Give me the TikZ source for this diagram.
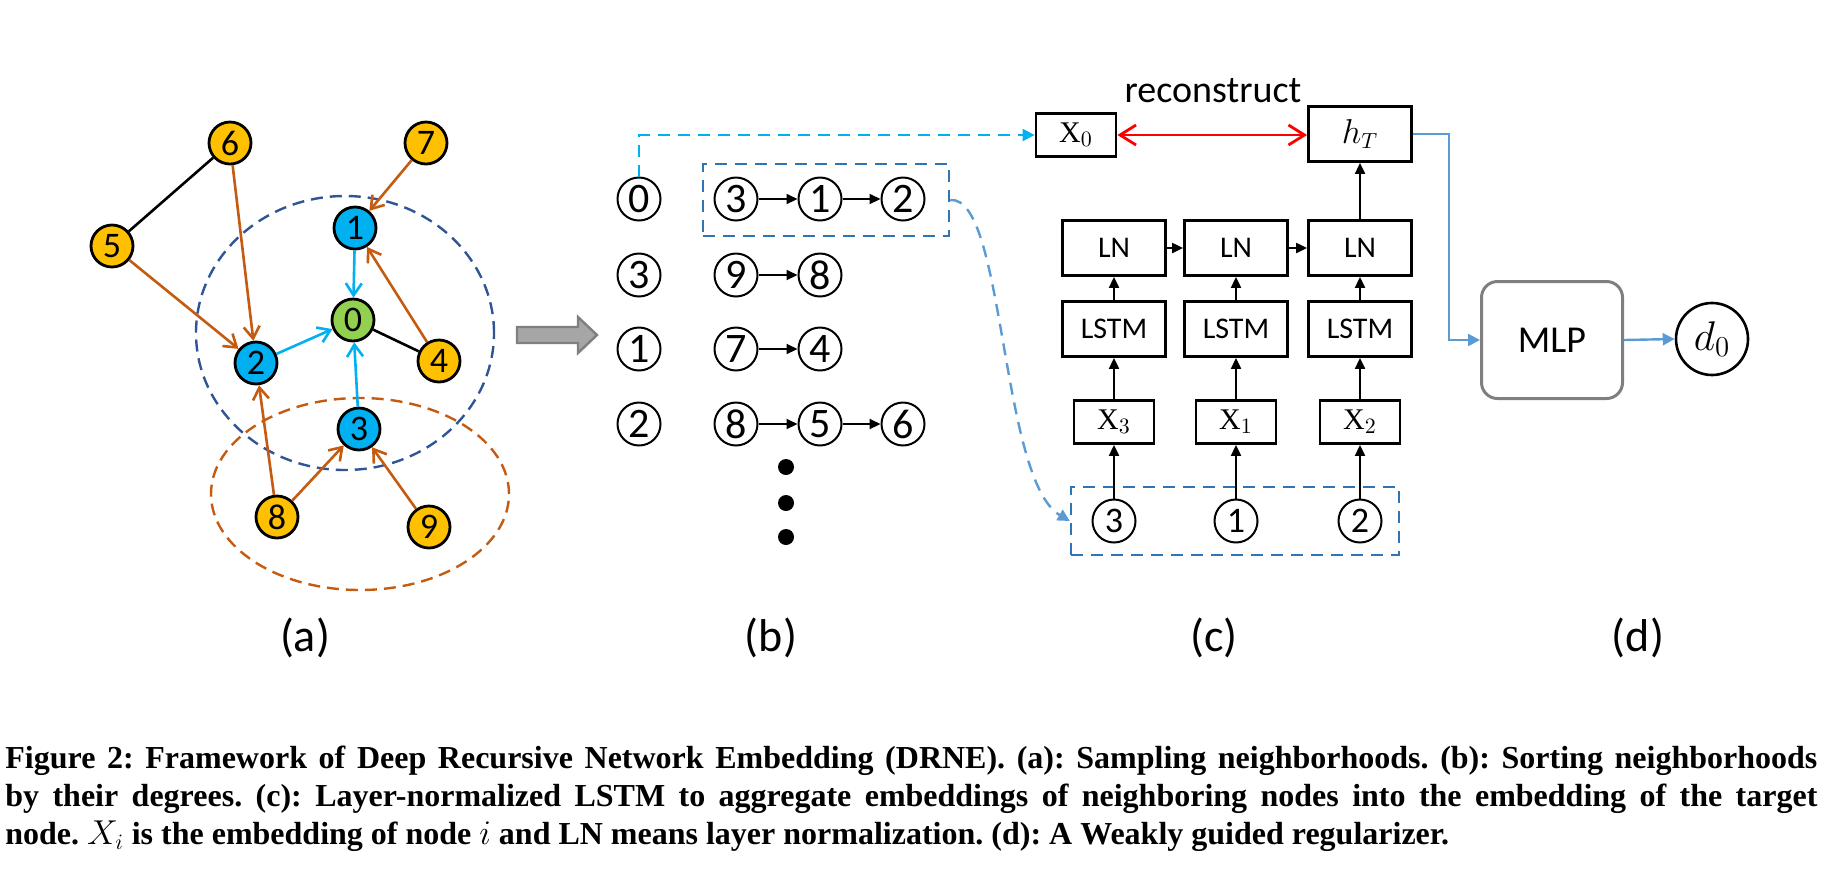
\documentclass[tikz,border=0pt]{standalone}
\usepackage{amsmath}
\usepackage{fontspec}
\usepackage{xcolor}
\usetikzlibrary{arrows.meta,calc}
\setmainfont{Liberation Serif}
\newfontfamily\calibri{Carlito}

\definecolor{cyell}{HTML}{FFC000}
\definecolor{cblue}{HTML}{00B0F0}
\definecolor{cgreen}{HTML}{92D050}
\definecolor{corange}{HTML}{C55A11}
\definecolor{cnavy}{HTML}{2F5597}
\definecolor{cbox}{HTML}{2E75B6}
\definecolor{clight}{HTML}{5B9BD5}
\definecolor{cgray}{HTML}{7F7F7F}
\definecolor{cfill}{HTML}{A6A6A6}

\begin{document}
\begin{tikzpicture}[x=0.5pt,y=-0.5pt,>=Stealth,
    vtx/.style={circle,draw,line width=1.4pt,minimum size=21pt,inner sep=0pt,
        font=\calibri\fontsize{18}{18}\selectfont},
    ring/.style={circle,draw,line width=1pt,minimum size=21.5pt,inner sep=0pt,
        font=\calibri\fontsize{21}{21}\selectfont},
    walk/.style={draw=corange,line width=1.3pt,-{Straight Barb[length=6pt,width=8pt]}},
    agg/.style={draw=cblue,line width=1.3pt,-{Straight Barb[length=6pt,width=8pt]}},
    flow/.style={line width=1pt,-{Triangle[length=5.5pt,width=5pt]}},
    cell/.style={draw,line width=1.4pt,minimum width=51.5pt,minimum height=27.5pt,
        inner sep=0pt,font=\calibri\fontsize{15}{15}\selectfont},
    emb/.style={draw,line width=1.4pt,minimum width=40pt,minimum height=21.5pt,
        inner sep=0pt,font=\fontsize{15}{15}\selectfont},
    frame/.style={draw=cbox,line width=1.2pt,dash pattern=on 6pt off 4pt},
    panel/.style={font=\calibri\fontsize{23}{23}\selectfont},
    caption/.style={anchor=base west,inner sep=0pt,font=\bfseries\fontsize{16}{19}\selectfont\frenchspacing}
]
\useasboundingbox (0,0) rectangle (1845,885);

% (a) sampling neighborhoods
\draw[cnavy,line width=1.2pt,dash pattern=on 6pt off 3.5pt] (345,333) ellipse [x radius=74.5pt,y radius=68.5pt];
\draw[corange,line width=1.2pt,dash pattern=on 6pt off 3.5pt] (360,494) ellipse [x radius=74.5pt,y radius=48pt];
\foreach \n/\x/\y/\c in {0/353/320/cgreen,1/355/228/cblue,2/256/363/cblue,3/359/429/cblue,
    4/439/361/cyell,5/112/246/cyell,6/230/143/cyell,7/426/143/cyell,8/277/517/cyell,9/429/527/cyell}
    \node[vtx,fill=\c] (g\n) at (\x,\y) {\n};
\draw[line width=1.3pt] (g6) -- (g5) (g0) -- (g4);
\foreach \s/\t in {6/2,5/2,7/1,4/1,8/2,8/3,9/3}
    \draw[walk] (g\s) -- (g\t);
\foreach \s in {1,2,3}
    \draw[agg] (g\s) -- (g0);
\filldraw[fill=cfill,draw=cgray,line width=1.2pt] (517,327) -- (578,327) -- (578,317) -- (597,335)
    -- (578,353) -- (578,343) -- (517,343) -- cycle;

% (b) neighbors sorted by degree
\foreach \n/\y in {0/199,3/275,1/349,2/424}
    \node[ring] (s\n) at (639,\y) {\n};
\foreach \row/\y/\a/\b in {0/199/3/1,1/275/9/8,2/349/7/4,3/424/8/5}{
    \node[ring] (p\row a) at (736,\y) {\a};
    \node[ring] (p\row b) at (820,\y) {\b};
    \draw[flow] (p\row a) -- (p\row b);
}
\node[ring] (p0c) at (903,199) {2};
\node[ring] (p3c) at (903,424) {6};
\draw[flow] (p0b) -- (p0c);
\draw[flow] (p3b) -- (p3c);
\foreach \y in {467,503,537}
    \fill (786,\y) circle (4pt);
\node[frame,minimum width=123pt,minimum height=36pt] (grp) at (826,200) {};

% (c) layer-normalized LSTM
\node[emb] (x0) at (1076,135) {$\mathrm{X}_0$};
\node[cell,font=\fontsize{16}{16}\selectfont] (hT) at (1360,134) {$h_T$};
\node[font=\calibri\fontsize{19}{19}\selectfont,anchor=base] (rec) at (1213,102) {reconstruct};
\node[frame,minimum width=164pt,minimum height=34pt] (seqin) at (1235,521) {};
\foreach \k/\x/\v in {1/1114/3,2/1236/1,3/1360/2}{
    \node[cell] (ln\k) at (\x,248) {LN};
    \node[cell] (lstm\k) at (\x,329) {LSTM};
    \node[emb] (emb\k) at (\x,422) {$\mathrm{X}_{\v}$};
    \node[ring,font=\calibri\fontsize{18}{18}\selectfont] (in\k) at (\x,521) {\v};
    \draw[flow] (in\k) -- (emb\k);
    \draw[flow] (emb\k) -- (lstm\k);
    \draw[flow] (lstm\k) -- (ln\k);
}
\draw[flow] (ln1) -- (ln2);
\draw[flow] (ln2) -- (ln3);
\draw[flow] (ln3) -- (hT);
\draw[red,line width=1.4pt,{Straight Barb[length=8pt,width=10pt]}-{Straight Barb[length=8pt,width=10pt]}]
    (x0.east) -- (x0.east -| hT.west);
\draw[cblue,line width=1pt,dash pattern=on 6pt off 4pt,-{Triangle[length=6pt,width=6pt]}]
    (s0.north) |- (x0.west);
\draw[clight,line width=1.2pt,dash pattern=on 6pt off 4pt,-{Triangle[length=6pt,width=6pt]}]
    (grp.east) .. controls (1005,195) and (1000,480) .. (seqin.west);

% (d) weakly guided regularizer
\node[draw=cgray,line width=1.5pt,rounded corners=8pt,minimum width=70.5pt,minimum height=58.5pt,
    font=\calibri\fontsize{19}{19}\selectfont] (mlp) at (1552,340) {MLP};
\node[circle,draw,line width=1.3pt,minimum size=36pt,inner sep=0pt,
    font=\fontsize{22}{22}\selectfont] (d0) at (1712,339) {$d_0$};
\draw[clight,line width=1.2pt,-{Triangle[length=6pt,width=6pt]}] (hT.east) -- ++(36,0) |- (mlp.west);
\draw[clight,line width=1.2pt,-{Triangle[length=6pt,width=6pt]}] (mlp.east) -- (d0.west);

\foreach \l/\x in {a/305,b/771,c/1214,d/1638}
    \node[panel] (lab\l) at (\x,638) {(\l)};

\node[caption] (cap1) at (5,768) {\makebox[906pt][s]{Figure 2: Framework of Deep Recursive Network Embedding (DRNE). (a): Sampling neighborhoods. (b): Sorting neighborhoods}};
\node[caption] (cap2) at (5,806) {\makebox[906pt][s]{by their degrees. (c): Layer-normalized LSTM to aggregate embeddings of neighboring nodes into the embedding of the target}};
\node[caption] (cap3) at (5,844) {node. $X_i$ is the embedding of node $i$ and LN means layer normalization. (d): A Weakly guided regularizer.};
\end{tikzpicture}
\end{document}
